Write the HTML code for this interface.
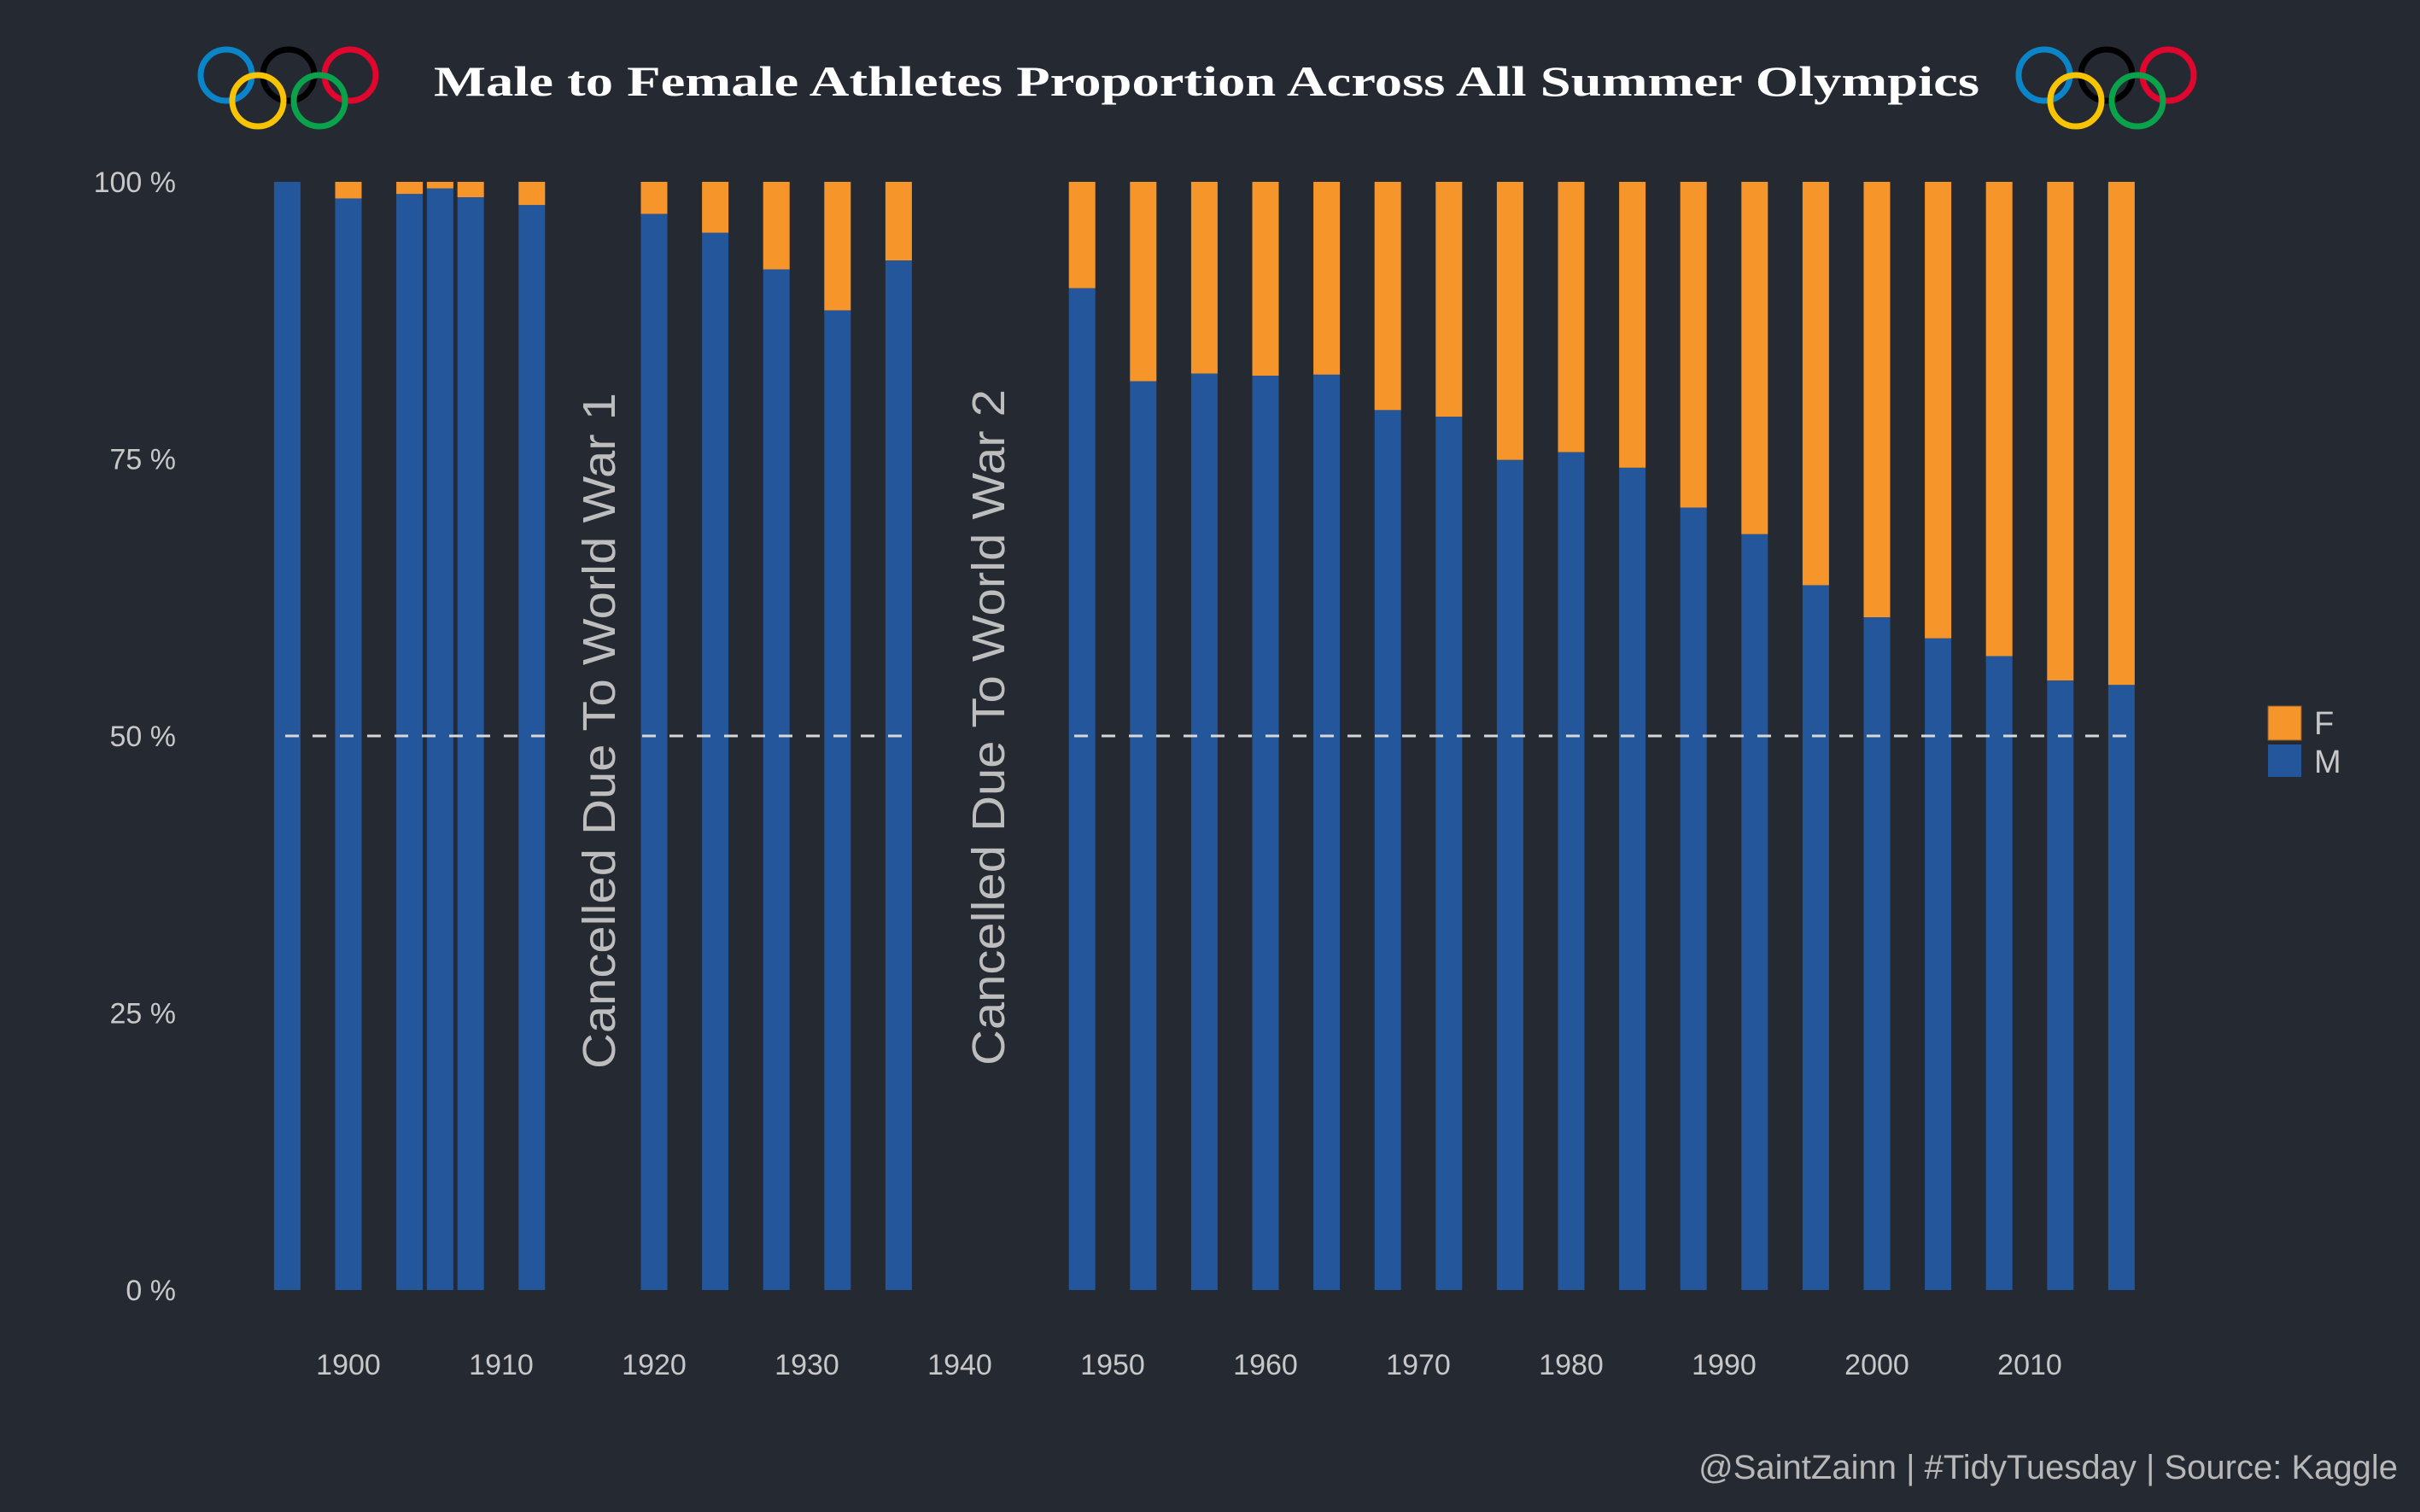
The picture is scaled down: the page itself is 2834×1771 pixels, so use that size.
<!DOCTYPE html>
<html><head><meta charset="utf-8"><style>
html,body{margin:0;padding:0;background:#252932;}
svg{display:block;}
text{font-family:"Liberation Sans",sans-serif;}
</style></head><body>
<svg id="chart" width="2834" height="1771" viewBox="0 0 2834 1771" xmlns="http://www.w3.org/2000/svg">
<rect width="2834" height="1771" fill="#252932"/>
<g id="rings-left"></g>
<g id="rings-right"></g>
<text x="1413" y="112" text-anchor="middle" font-family="Liberation Serif" font-weight="bold" font-size="50" fill="#ffffff" textLength="1810" lengthAdjust="spacingAndGlyphs" style="font-family:'Liberation Serif',serif">Male to Female Athletes Proportion Across All Summer Olympics</text>
<g id="yaxis"></g>
<g id="xaxis"></g>
<g id="bars"></g>
<g id="refline"></g>
<text transform="translate(720,856) rotate(-90)" text-anchor="middle" font-size="54" fill="#bdbdbd" textLength="792" lengthAdjust="spacingAndGlyphs">Cancelled Due To World War 1</text>
<text transform="translate(1176,852) rotate(-90)" text-anchor="middle" font-size="54" fill="#bdbdbd" textLength="792" lengthAdjust="spacingAndGlyphs">Cancelled Due To World War 2</text>
<g>
<rect x="2656" y="827" width="39" height="40" fill="#f5952a" stroke="#8a5a2a" stroke-width="1"/>
<text x="2710" y="860" font-size="38" fill="#c8c8c8">F</text>
<rect x="2656" y="872" width="39" height="38" fill="#23569a"/>
<text x="2710" y="905" font-size="38" fill="#c8c8c8">M</text>
</g>
<text x="2808" y="1732" text-anchor="end" font-size="40" fill="#b8b8b8">@SaintZainn | #TidyTuesday | Source: Kaggle</text>
</svg>
<script>
const years = [1896,1900,1904,1906,1908,1912,1920,1924,1928,1932,1936,1948,1952,1956,1960,1964,1968,1972,1976,1980,1984,1988,1992,1996,2000,2004,2008,2012,2016];
const malePct = [100,98.5,98.9,99.4,98.6,97.9,97.1,95.4,92.1,88.4,92.9,90.4,82.0,82.7,82.5,82.6,79.4,78.8,74.9,75.6,74.2,70.6,68.2,63.6,60.7,58.8,57.2,55.0,54.6];
const yTicks = [0,25,50,75,100];
const xTicks = [1900,1910,1920,1930,1940,1950,1960,1970,1980,1990,2000,2010];
const NS = "http://www.w3.org/2000/svg";
const xs = y => 408 + (y - 1900) * 17.9;
const ys = p => 1511 - p / 100 * 1298;
const BW = 31;
function mk(tag, attrs, parent){const e=document.createElementNS(NS,tag);for(const k in attrs)e.setAttribute(k,attrs[k]);parent.appendChild(e);return e;}
const bars=document.getElementById('bars');
years.forEach((yr,i)=>{
  const x=xs(yr)-BW/2, m=malePct[i];
  const f=mk('rect',{x:x,y:ys(100),width:BW,height:ys(m)-ys(100),fill:'#f5952a'},bars);
  
  
  const b=mk('rect',{x:x,y:ys(m),width:BW,height:ys(0)-ys(m),fill:'#23569a'},bars);
  
  
});
const ya=document.getElementById('yaxis');
yTicks.forEach(t=>{
  const e=mk('text',{x:206,y:ys(t)+12,'text-anchor':'end','font-size':34,fill:'#c8c8c8'},ya);
  e.textContent=t+' %';
  
  
});
const xa=document.getElementById('xaxis');
xTicks.forEach(t=>{
  const e=mk('text',{x:xs(t),y:1610,'text-anchor':'middle','font-size':34,fill:'#c8c8c8'},xa);
  e.textContent=t;
  
  
});
const rl=document.getElementById('refline');
[[334,642],[752,1066],[1258,2499]].forEach(s=>{
  const l=mk('line',{x1:s[0],x2:s[1],y1:ys(50),y2:ys(50),stroke:'#d8d8d8','stroke-width':3,'stroke-dasharray':'16 16'},rl);
  
  
});
function rings(g,ox){
  const r=[[265,88,'#0a85c9'],[338,88,'#000000'],[410,88,'#e0062d'],[302,118,'#f8c300'],[374,118,'#0aa24a']];
  r.forEach(c=>{
    const e=mk('circle',{cx:c[0]+ox,cy:c[1],r:30,fill:'none',stroke:c[2],'stroke-width':7},g);
    
    
  });
}
rings(document.getElementById('rings-left'),0);
rings(document.getElementById('rings-right'),2129);
</script>
</body></html>
